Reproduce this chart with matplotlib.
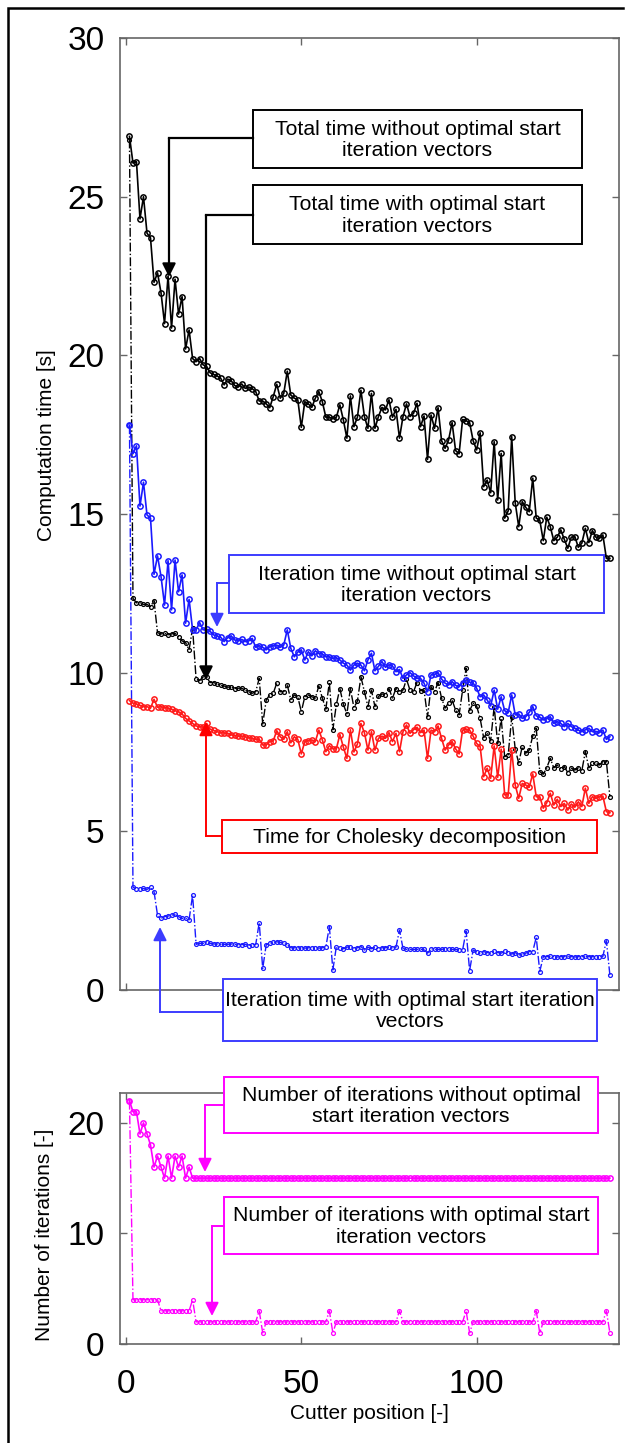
import matplotlib
matplotlib.use("Agg")
import matplotlib.pyplot as plt
from matplotlib.patches import Rectangle
import numpy as np

plt.rcParams['font.family'] = ['Liberation Sans', 'DejaVu Sans']

# cutter positions
pos = np.arange(1, 139)

# total time without optimal start iteration vectors [s]
total_without = [
    26.9, 26.06, 26.1, 24.3, 25.0, 23.85, 23.7, 22.3, 22.6, 21.97,
    21.0, 22.5, 20.86, 22.4, 21.3, 21.85, 20.2, 20.8, 19.9, 19.8,
    19.9, 19.7, 19.65, 19.45, 19.4, 19.35, 19.28, 19.07, 19.25, 19.2,
    19.05, 19.0, 19.1, 18.96, 19.0, 18.95, 18.86, 18.56, 18.56, 18.47,
    18.35, 18.7, 19.09, 18.65, 18.8, 19.5, 18.75, 18.65, 18.6, 17.73,
    18.54, 18.47, 18.36, 18.65, 18.86, 18.54, 18.05, 18.05, 18.0, 18.05,
    18.44, 17.96, 17.39, 18.72, 17.75, 18.05, 18.9, 18.07, 17.7, 18.8,
    17.7, 18.07, 18.36, 18.28, 18.6, 18.05, 18.3, 17.39, 18.07, 18.47,
    18.07, 18.17, 18.49, 17.75, 18.09, 16.72, 18.12, 17.7, 18.35, 17.31,
    17.07, 17.33, 17.88, 17.0, 16.9, 17.98, 17.94, 17.88, 17.31, 17.02,
    17.56, 15.86, 16.07, 15.67, 17.28, 15.44, 16.91, 14.87, 15.1, 17.44,
    15.36, 14.6, 15.39, 15.21, 15.07, 16.13, 14.87, 14.81, 14.16, 14.9,
    14.6, 14.16, 14.27, 14.5, 14.2, 13.92, 14.27, 14.29, 13.95, 14.08,
    14.55, 14.1, 14.48, 14.27, 14.23, 14.34, 13.6, 13.6]

# total time with optimal start iteration vectors [s]
total_with = [
    26.8, 12.34, 12.2, 12.2, 12.15, 12.15, 12.08, 12.27, 11.26, 11.22,
    11.24, 11.19, 11.22, 11.24, 11.13, 11.0, 10.95, 10.72, 11.4, 9.8,
    9.75, 9.87, 9.85, 9.69, 9.69, 9.64, 9.6, 9.58, 9.54, 9.56,
    9.5, 9.51, 9.51, 9.45, 9.4, 9.35, 9.4, 9.82, 8.38, 9.14,
    9.3, 9.35, 9.67, 9.4, 9.4, 9.61, 9.15, 9.3, 9.24, 8.77,
    9.24, 9.3, 9.24, 9.2, 9.58, 9.2, 8.85, 9.7, 8.2, 9.0,
    9.5, 9.0, 8.7, 9.5, 8.9, 9.1, 9.87, 9.4, 8.93, 9.45,
    8.93, 9.25, 9.33, 9.3, 9.5, 9.2, 9.5, 9.4, 9.45, 9.79,
    9.45, 9.4, 9.69, 9.43, 9.45, 8.61, 9.56, 9.4, 9.69, 9.2,
    8.88, 9.05, 9.14, 8.82, 8.67, 9.45, 10.14, 8.8, 9.04, 8.95,
    8.56, 7.95, 8.11, 7.85, 8.93, 7.77, 8.56, 7.35, 7.41, 8.6,
    7.6, 7.15, 7.67, 7.46, 7.56, 8.0, 8.25, 6.88, 6.8, 7.0,
    7.3, 7.0, 7.09, 6.96, 7.04, 6.85, 6.99, 6.93, 7.0, 6.91,
    7.51, 7.0, 7.14, 7.14, 7.09, 7.2, 7.2, 6.09]

# iteration time without optimal start iteration vectors [s]
iter_without = [
    17.8, 16.9, 17.15, 15.25, 16.0, 14.97, 14.87, 13.1, 13.68, 13.03,
    12.13, 13.53, 11.98, 13.55, 12.55, 13.08, 11.56, 12.31, 11.35, 11.35,
    11.58, 11.35, 11.37, 11.3, 11.19, 11.15, 11.12, 10.98, 11.1, 11.16,
    11.03, 11.0, 11.05, 10.98, 11.0, 11.08, 10.8, 10.85, 10.8, 10.72,
    10.82, 10.85, 10.87, 10.8, 10.87, 11.35, 10.77, 10.5, 10.65, 10.72,
    10.4, 10.66, 10.53, 10.69, 10.6, 10.59, 10.5, 10.5, 10.45, 10.47,
    10.4, 10.3, 10.24, 10.08, 10.24, 10.3, 10.24, 10.06, 10.4, 10.61,
    10.06, 10.2, 10.35, 10.17, 10.25, 10.21, 10.03, 10.1, 9.82, 9.93,
    10.0, 9.9, 9.82, 9.82, 9.67, 9.4, 9.93, 9.95, 10.0, 9.8,
    9.67, 9.61, 9.72, 9.6, 9.56, 9.69, 9.77, 9.7, 9.67, 9.51,
    9.24, 9.3, 9.14, 8.95, 9.45, 8.85, 9.24, 8.8, 8.74, 9.3,
    8.67, 8.7, 8.56, 8.61, 8.75, 8.93, 8.64, 8.6, 8.51, 8.55,
    8.61, 8.4, 8.46, 8.4, 8.3, 8.4, 8.3, 8.25, 8.19, 8.14,
    8.2, 8.25, 8.14, 8.15, 8.11, 8.19, 7.9, 7.98]

# iteration time with optimal start iteration vectors [s]
iter_with = [
    17.8, 3.24, 3.18, 3.18, 3.2, 3.17, 3.24, 3.1, 2.36, 2.26,
    2.31, 2.33, 2.36, 2.38, 2.31, 2.26, 2.26, 2.21, 2.99, 1.44,
    1.47, 1.47, 1.52, 1.47, 1.45, 1.45, 1.44, 1.44, 1.44, 1.45,
    1.44, 1.43, 1.43, 1.44, 1.4, 1.43, 1.43, 2.12, 0.68, 1.43,
    1.47, 1.5, 1.52, 1.5, 1.47, 1.43, 1.33, 1.33, 1.33, 1.33,
    1.32, 1.33, 1.33, 1.33, 1.32, 1.33, 1.35, 2.0, 0.63, 1.37,
    1.31, 1.3, 1.35, 1.37, 1.3, 1.33, 1.37, 1.26, 1.35, 1.3,
    1.35, 1.3, 1.33, 1.33, 1.35, 1.33, 1.35, 1.89, 1.31, 1.28,
    1.28, 1.28, 1.28, 1.28, 1.28, 1.16, 1.3, 1.28, 1.28, 1.28,
    1.3, 1.28, 1.28, 1.28, 1.26, 1.26, 1.86, 0.61, 1.26, 1.2,
    1.16, 1.21, 1.18, 1.16, 1.23, 1.18, 1.16, 1.23, 1.18, 1.13,
    1.18, 1.1, 1.13, 1.16, 1.21, 1.21, 1.66, 0.58, 1.05, 1.05,
    1.06, 1.05, 1.04, 1.05, 1.05, 1.06, 1.05, 1.04, 1.05, 1.05,
    1.06, 1.05, 1.05, 1.04, 1.05, 1.06, 1.55, 0.47]

# time for Cholesky decomposition [s]
cholesky = [
    9.12, 9.04, 9.01, 8.97, 8.93, 8.93, 8.88, 9.16, 8.91, 8.93,
    8.9, 8.88, 8.85, 8.8, 8.77, 8.7, 8.56, 8.48, 8.4, 8.32,
    8.3, 8.28, 8.4, 8.22, 8.18, 8.14, 8.11, 8.1, 8.09, 8.04,
    8.02, 8.0, 8.0, 7.98, 7.95, 7.93, 7.9, 7.9, 7.72, 7.72,
    7.83, 7.85, 8.17, 7.98, 7.9, 8.14, 7.79, 7.98, 7.9, 7.44,
    7.83, 7.86, 7.88, 7.83, 8.19, 7.88, 7.51, 7.7, 7.6, 7.6,
    8.05, 7.65, 7.3, 8.2, 7.5, 7.75, 8.4, 8.11, 7.56, 8.14,
    7.56, 7.93, 8.0, 7.93, 8.11, 7.83, 8.09, 7.51, 8.14, 8.35,
    8.09, 8.2, 8.28, 8.11, 8.19, 7.3, 8.19, 8.14, 8.32, 7.93,
    7.56, 7.72, 7.83, 7.6, 7.44, 8.19, 8.22, 8.19, 8.0, 7.77,
    7.67, 6.72, 6.99, 6.67, 7.69, 6.7, 7.59, 6.15, 6.15, 7.56,
    6.46, 6.04, 6.51, 6.46, 6.39, 6.81, 6.09, 6.09, 5.73, 5.9,
    6.2, 5.83, 6.01, 5.78, 5.88, 5.67, 5.86, 5.76, 5.93, 5.78,
    6.36, 5.88, 6.09, 6.04, 6.09, 6.11, 5.62, 5.59]

# number of iterations
n_iter_without = [22, 21, 21, 19, 20, 19, 18, 16, 17, 16,
                  15, 17, 15, 17, 16, 17, 15, 16] + [15] * 120
n_iter_with = ([22] + [4] * 8 + [3] * 9 + [4] + [2] * 18 + [3, 1] + [2] * 18
               + [3, 1] + [2] * 18 + [3] + [2] * 18 + [3, 1] + [2] * 18
               + [3, 1] + [2] * 18 + [3, 1])

BLUE = '#1a1aff'
RED = '#ff1a1a'
MAG = '#ff00ff'
FRAME = '#666666'

W, H = 625, 1443
fig = plt.figure(figsize=(W / 100, H / 100), dpi=100)
ax = fig.add_axes([120 / W, 1 - 990 / H, 499 / W, 952 / H])
ax2 = fig.add_axes([120 / W, 1 - 1344 / H, 499 / W, 251 / H])

solid = dict(marker='o', ms=3.8, mfc='none', mew=1.1, lw=1.2)
dashed = dict(marker='o', ms=2.8, mfc='none', mew=0.9, lw=1.0, ls='-.')

ax.plot(pos, iter_with, color=BLUE, **dashed)
ax.plot(pos, total_with, color='black', **dashed)
ax.plot(pos, cholesky, color=RED, **solid)
ax.plot(pos, iter_without, color=BLUE, **solid)
ax.plot(pos, total_without, color='black', **solid)

ax2.plot(pos, n_iter_with, color=MAG, **dashed)
ax2.plot(pos, n_iter_without, color=MAG, **solid)

for a in (ax, ax2):
    a.set_xlim(-1.7, 140.6)
    a.set_xticks([0, 50, 100])
    a.tick_params(direction='in', top=True, right=True, length=5,
                  width=1, color=FRAME, labelsize=24, pad=11)
    for s in a.spines.values():
        s.set_color(FRAME)
        s.set_linewidth(1.2)

ax.set_ylim(0, 30)
ax.set_yticks([0, 5, 10, 15, 20, 25, 30])
ax.set_xticklabels([])
ax2.set_ylim(0, 22.7)
ax2.set_yticks([0, 10, 20])
ax2.tick_params(axis='x', pad=18)
ax2.set_xlabel('Cutter position [-]', fontsize=15, labelpad=3)

# overlay in pixel coordinates for the callouts
ov = fig.add_axes([0, 0, 1, 1], zorder=5)
ov.set_xlim(0, W)
ov.set_ylim(H, 0)
ov.axis('off')

ov.text(47, 445, 'Computation time [s]', rotation=90, ha='center',
        va='center', fontsize=15)
ov.text(45, 1235, 'Number of iterations [-]', rotation=90, ha='center',
        va='center', fontsize=15)

# figure border (left and top)
ov.plot([7.5, 7.5, 623], [H, 8, 8], color='black', lw=1.8,
        solid_joinstyle='miter')

boxes = [
    ((253, 110, 582, 168), 'Total time without optimal start\niteration vectors', 'black'),
    ((253, 185, 582, 244), 'Total time with optimal start\niteration vectors', 'black'),
    ((229, 555, 604, 613), 'Iteration time without optimal start\niteration vectors', '#3c3cff'),
    ((222, 820, 597, 853), 'Time for Cholesky decomposition', '#ff0000'),
    ((223, 979, 597, 1041), 'Iteration time with optimal start iteration\nvectors', '#3c3cff'),
    ((224, 1077, 598, 1133), 'Number of iterations without optimal\nstart iteration vectors', MAG),
    ((224, 1197, 598, 1254), 'Number of iterations with optimal start\niteration vectors', MAG),
]
for (x0, y0, x1, y1), label, col in boxes:
    ov.add_patch(Rectangle((x0, y0), x1 - x0, y1 - y0, fill=True, fc='white',
                           ec=col, lw=1.4))
    ov.text((x0 + x1) / 2, (y0 + y1) / 2 + 1, label, ha='center', va='center',
            fontsize=15.3, linespacing=1.15)

arrows = [
    ((253, 138), (169, 138), (169, 277), 'black', 1.6),
    ((253, 215), (206, 215), (206, 680), 'black', 1.6),
    ((229, 583), (217, 583), (217, 627), '#3c3cff', 1.4),
    ((222, 836), (206, 836), (206, 722), '#ff0000', 1.4),
    ((223, 1012), (160, 1012), (160, 927), '#3c3cff', 1.4),
    ((224, 1105), (205, 1105), (205, 1172), MAG, 1.4),
    ((224, 1226), (212, 1226), (212, 1316), MAG, 1.4),
]
for start, corner, tip, col, lw in arrows:
    ov.plot([start[0], corner[0]], [start[1], corner[1]], color=col, lw=lw)
    ov.annotate('', xy=tip, xytext=corner,
                arrowprops=dict(arrowstyle='-|>', color=col, lw=lw,
                                mutation_scale=20, shrinkA=0, shrinkB=0))

fig.savefig('out.png', dpi=100)
